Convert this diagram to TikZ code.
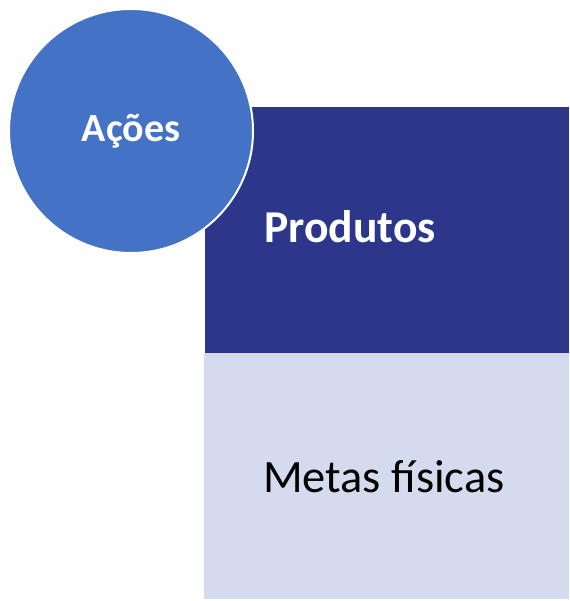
\documentclass[tikz,border=0pt]{standalone}
\usepackage{fontspec}
\setmainfont{Carlito}
\definecolor{acblue}{RGB}{68,114,196}
\definecolor{navyp}{RGB}{44,54,138}
\definecolor{lightp}{RGB}{213,219,238}
\tikzset{
  txt/.style={anchor=base west, inner sep=0pt},
}
\begin{document}
\begin{tikzpicture}[x=1pt,y=-1pt]
\useasboundingbox (0,0) rectangle (569,601);
\fill[white] (0,0) rectangle (569,601);
\fill[navyp] (205,107) rectangle (569,353) coordinate (dk);
\fill[lightp] (204,353) rectangle (569,599);
\node[txt, text=white, font=\bfseries\fontsize{45.6}{52}\selectfont] (prod) at (264,243) {Produtos};
\node[txt, text=black, font=\fontsize{46.4}{53}\selectfont] (metas) at (263,492) {Metas físicas};
\node[circle, fill=acblue, draw=white, line width=2pt, minimum size=244pt, inner sep=0pt] (acoes) at (131,131) {};
\node[anchor=base, inner sep=0pt, text=white, font=\bfseries\fontsize{40}{46}\selectfont] (acoestxt) at (131,142) {Ações};
\end{tikzpicture}
\end{document}
